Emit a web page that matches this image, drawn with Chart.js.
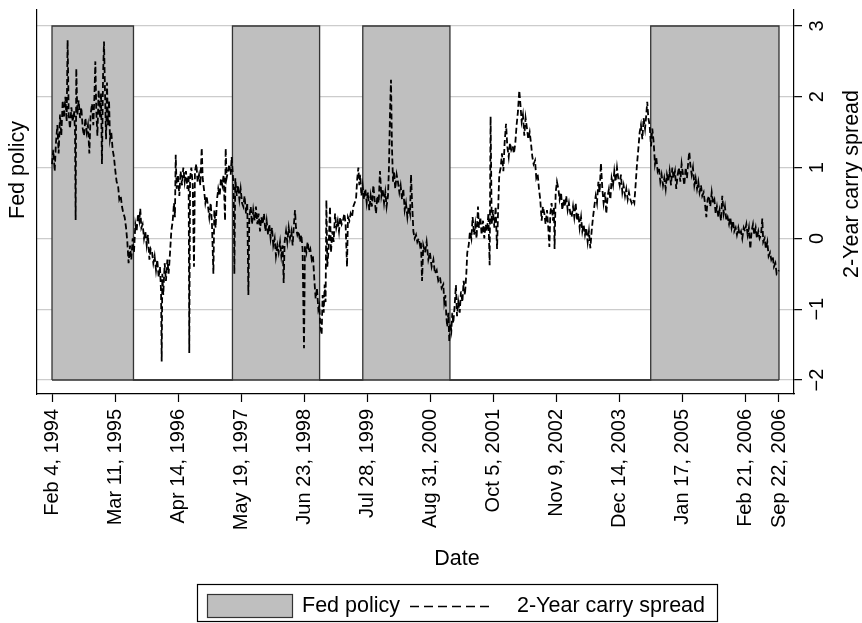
<!DOCTYPE html>
<html><head><meta charset="utf-8">
<script src="https://cdn.jsdelivr.net/npm/chart.js@4.4.1/dist/chart.umd.min.js"></script>
<style>html,body{margin:0;padding:0;background:#fff}canvas{display:block}</style>
</head><body>
<canvas id="c" width="862" height="623"></canvas>
<script>
// x values are calendar days since Feb 4, 1994
const tickDays = [0,400,800,1200,1600,2000,2400,2800,3200,3600,4000,4400,4613];
const tickLabels = ["Feb 4, 1994","Mar 11, 1995","Apr 14, 1996","May 19, 1997","Jun 23, 1998","Jul 28, 1999","Aug 31, 2000","Oct 5, 2001","Nov 9, 2002","Dec 14, 2003","Jan 17, 2005","Feb 21, 2006","Sep 22, 2006"];
const spreadTicks = [-2,-1,0,1,2,3];

// Fed policy regime (1 = tightening) starting at each date
const fedDays   = [0,0,517,1145,1698,1972,2525,3799,4613,4613];
const fedPolicy = [0,1,0,1,0,1,0,1,1,0];

const spreadDays = [
0,8,17,25,34,42,51,59,68,76,
85,93,99,106,114,123,131,140,146,150,
154,161,169,178,186,195,203,212,220,228,
237,245,254,262,269,275,281,288,296,305,
311,317,324,330,336,343,349,355,362,368,
376,385,393,402,410,419,427,436,444,453,
461,470,478,486,495,503,512,520,529,537,
546,554,560,567,575,584,592,601,609,618,
626,635,643,651,660,668,677,685,692,696,
700,706,715,723,732,740,749,757,766,774,
780,785,791,799,808,816,825,833,842,850,
859,867,871,876,884,893,901,907,916,924,
933,941,950,956,964,973,981,990,998,1007,
1015,1024,1030,1038,1047,1055,1064,1072,1081,1089,
1098,1102,1108,1117,1125,1134,1140,1146,1153,1157,
1163,1172,1180,1189,1197,1206,1214,1222,1231,1239,
1246,1252,1261,1269,1277,1286,1294,1303,1311,1320,
1328,1337,1345,1354,1362,1371,1379,1387,1396,1404,
1413,1421,1430,1438,1447,1455,1464,1470,1476,1485,
1493,1502,1510,1519,1527,1535,1542,1548,1557,1565,
1574,1582,1590,1599,1605,1614,1622,1631,1639,1648,
1656,1665,1673,1681,1690,1696,1703,1711,1717,1724,
1730,1736,1741,1747,1755,1764,1770,1779,1787,1796,
1804,1813,1821,1829,1838,1846,1855,1863,1872,1878,
1887,1895,1904,1912,1920,1929,1937,1944,1950,1956,
1963,1971,1980,1988,1997,2005,2013,2022,2030,2039,
2047,2056,2064,2073,2081,2090,2098,2107,2115,2123,
2132,2138,2145,2151,2157,2164,2170,2178,2187,2195,
2204,2212,2221,2229,2238,2246,2255,2263,2272,2278,
2284,2293,2301,2310,2318,2327,2335,
2341,2348,2356,2367,2377,2388,2398,2409,2420,2430,
2441,2451,2462,2472,2483,2489,2496,2502,2508,2515,
2521,2527,2534,2540,2546,2555,2563,2570,2578,2587,
2595,2604,2612,2620,2629,2635,2644,2652,2661,2669,
2678,2686,2694,2703,2709,2718,2726,2735,2743,2752,
2760,2769,2777,2783,2790,2798,2807,2815,2824,2830,
2838,2847,2855,2864,2872,2881,2889,2898,2906,2914,
2923,2931,2940,2948,2957,2965,2972,2980,2988,2997,
3005,3014,3022,3031,3039,3048,3056,3065,3073,3082,
3090,3098,3107,3115,3124,3132,3141,3149,3156,3162,
3170,3179,3185,3189,3196,3204,3213,3221,3230,3238,
3247,3255,3263,3272,3280,3289,3297,3306,3314,3323,
3331,3340,3348,3357,3365,3373,3382,3390,3399,3407,
3416,3424,3433,3441,3450,3458,3467,3475,3483,3492,
3500,3509,3517,3526,3534,3543,3551,3560,3568,3576,
3585,3593,3602,3610,3619,3627,3636,3644,3653,3661,
3670,3678,3686,3695,3703,3712,3720,3729,3737,3746,
3754,3763,3771,3777,3784,3792,3801,3809,3818,3826,
3834,3843,3851,3860,3868,3877,3885,3894,3902,3911,
3919,3928,3936,3944,3953,3961,3970,3978,3987,3995,
4004,4012,4021,4029,4038,4044,4050,4059,4067,4076,
4084,4093,4101,4109,4118,4126,4135,4143,4152,4160,
4169,4177,4186,4194,4203,4211,4219,4228,4236,4245,
4253,4262,4270,4279,4287,4296,4304,4312,4321,4329,
4338,4346,4355,4363,4372,4380,4389,4397,4406,4414,
4422,4431,4439,4448,4456,4465,4473,4482,4490,4499,
4507,4513,4522,4530,4539,4547,4556,4564,4573,4581,
4590,4598,4613
];
const spreadValues = [
1.05,1.25,0.95,1.35,1.6,1.2,1.75,1.45,1.95,1.7,
2.0,1.65,2.8,1.75,1.55,1.85,1.65,1.8,1.5,0.26,
2.4,1.75,1.95,1.7,1.85,1.55,1.45,1.7,1.5,1.6,
1.2,1.75,1.9,1.6,2.0,2.5,1.8,1.45,2.1,1.7,
2.05,1.05,2.3,2.78,2.1,1.4,2.2,1.6,1.95,1.4,
1.5,1.25,1.15,0.95,0.8,0.75,0.55,0.6,0.45,0.35,
0.3,0.15,-0.05,-0.35,-0.1,-0.3,0.0,-0.2,0.2,0.1,
0.35,0.25,0.42,0.15,0.2,0.0,0.1,-0.1,0.05,-0.3,
-0.15,-0.2,-0.35,-0.25,-0.45,-0.3,-0.55,-0.4,-0.75,-1.74,
-0.5,-0.8,-0.35,-0.6,-0.3,-0.5,-0.2,0.1,0.25,0.5,
0.3,1.18,0.7,0.9,0.6,0.95,0.75,1.0,0.8,0.95,
0.7,0.9,-1.62,0.85,1.0,0.75,-0.4,0.95,1.05,0.8,
0.9,0.75,1.28,0.85,0.7,0.5,0.6,0.45,0.3,0.5,
0.2,-0.5,0.4,0.15,0.55,0.7,0.6,0.85,0.75,0.9,
0.25,1.27,0.85,0.95,1.05,0.9,1.15,0.95,0.7,-0.5,
0.85,0.6,0.75,0.55,0.7,0.5,0.45,0.6,0.35,0.5,
-0.8,0.3,0.45,0.2,0.4,0.25,0.45,0.2,0.35,0.1,
0.3,0.2,0.35,0.1,0.25,0.05,0.2,0.0,0.15,-0.1,
0.0,-0.25,-0.1,-0.2,-0.05,-0.25,-0.1,-0.63,-0.05,0.1,
-0.05,0.15,0.0,0.1,-0.1,0.2,0.4,0.15,0.05,0.1,
-0.05,0.05,-0.15,-1.55,-0.1,-0.2,-0.05,-0.2,-0.15,-0.3,
-0.25,-0.6,-0.85,-0.7,-1.0,-0.95,-1.25,-1.36,-0.8,-1.05,
-0.65,-0.9,0.54,-0.4,-0.15,0.45,-0.2,0.1,-0.05,0.35,
0.15,0.25,0.1,0.3,0.2,0.25,0.35,0.2,-0.4,0.3,
0.25,0.35,0.3,0.45,0.5,0.55,0.85,1.0,0.75,0.9,
0.6,0.75,0.55,0.7,0.5,0.65,0.4,0.6,0.45,0.75,
0.55,0.35,0.6,0.5,0.95,0.6,0.7,0.5,0.65,0.45,
0.6,1.0,1.8,2.24,1.3,0.8,0.95,0.7,0.9,0.8,
0.65,0.75,0.55,0.7,0.4,0.5,0.3,0.45,0.35,0.9,
0.55,0.1,0.0,0.05,-0.05,0.0,-0.1,
-0.05,-0.6,-0.1,-0.2,-0.05,-0.3,-0.2,-0.4,-0.3,-0.5,
-0.45,-0.6,-0.55,-0.7,-0.65,-0.9,-0.8,-1.1,-1.25,-1.05,
-1.46,-1.2,-1.3,-1.05,-1.2,-0.95,-0.66,-1.1,-0.9,-1.05,
-0.75,-0.9,-0.6,-0.8,-0.5,-0.2,-0.1,0.1,0.0,0.3,
0.05,0.2,0.0,0.45,0.15,0.3,0.05,0.25,0.0,0.2,
0.1,0.35,-0.38,1.72,0.2,0.4,0.15,0.45,-0.15,0.35,
0.9,1.0,1.2,0.95,1.35,1.62,1.3,1.15,1.35,1.25,
1.3,1.2,1.35,1.6,1.8,2.09,1.9,1.65,1.75,1.45,
1.7,1.55,1.4,1.5,1.35,1.15,1.05,1.1,0.85,0.9,
0.7,0.55,0.25,0.45,0.35,0.2,0.4,0.15,-0.12,0.35,
0.5,0.25,0.45,-0.15,0.65,0.8,0.7,0.55,0.65,0.4,
0.55,0.45,0.6,0.4,0.5,0.35,0.3,0.45,0.3,0.5,
0.25,0.35,0.15,0.3,0.1,0.2,0.05,0.15,-0.05,0.1,
-0.14,0.1,0.3,0.45,0.6,0.5,0.8,0.65,1.06,0.7,
0.5,0.65,0.35,0.6,0.7,0.55,0.85,0.75,0.95,0.8,
1.0,0.85,0.75,0.9,0.65,0.75,0.6,0.7,0.55,0.65,
0.55,0.5,0.55,0.5,0.75,1.05,1.25,1.5,1.6,1.4,
1.7,1.55,1.75,1.93,1.7,1.6,1.3,1.55,1.35,1.05,
1.15,0.95,1.0,0.8,0.9,0.75,0.85,0.7,0.9,0.8,
0.95,0.75,1.0,0.85,0.95,0.7,0.9,1.0,0.8,1.05,
0.9,0.75,1.0,0.85,1.1,1.22,1.05,0.9,1.0,0.75,
0.85,0.7,0.8,0.65,0.75,0.6,0.65,0.5,0.3,0.55,
0.6,0.45,0.65,0.5,0.55,0.35,0.45,0.3,0.4,0.25,
0.6,0.35,0.45,0.25,0.3,0.2,0.3,0.15,0.25,0.1,
0.15,0.05,0.15,0.05,0.1,0.0,0.15,0.1,0.2,0.05,
0.15,-0.15,0.1,0.2,0.05,0.15,0.0,0.1,0.0,0.05,
0.28,-0.05,0.0,-0.15,-0.05,-0.25,-0.2,-0.3,-0.25,-0.4,
-0.35,-0.5,-0.45
];

const FONT = '"Liberation Sans", Arial, Helvetica, sans-serif';
const AREA_FILL = '#bfbfbf';
const AREA_EDGE = '#333333';
const DASH = [6,3];

const decor = {
  id: 'decor',
  afterDatasetDraw(chart, args) {
    if (args.index !== 1) return;
    const xs = chart.scales.x, yf = chart.scales.yFed, ctx = chart.ctx;
    const y0 = yf.getPixelForValue(0);
    ctx.save();
    ctx.strokeStyle = AREA_EDGE; ctx.lineWidth = 1.3;
    ctx.beginPath();
    ctx.moveTo(xs.getPixelForValue(fedDays[0]), y0);
    ctx.lineTo(xs.getPixelForValue(fedDays[fedDays.length - 1]), y0);
    ctx.stroke();
    ctx.restore();
  },
  afterDraw(chart) {
    const ctx = chart.ctx, ys = chart.scales.y;
    ctx.save();
    ctx.fillStyle = '#000';
    // right tick labels (rotated)
    ctx.font = '20px ' + FONT;
    ctx.textAlign = 'center'; ctx.textBaseline = 'middle';
    spreadTicks.forEach(v => {
      const y = ys.getPixelForValue(v);
      ctx.save(); ctx.translate(817, y); ctx.rotate(-Math.PI / 2);
      ctx.fillText(v < 0 ? '\u2212' + Math.abs(v) : String(v), 0, 0);
      ctx.restore();
    });
    // axis titles
    ctx.font = '21.5px ' + FONT;
    ctx.save(); ctx.translate(18, 170); ctx.rotate(-Math.PI / 2);
    ctx.fillText(chart.data.datasets[1].label, 0, 0); ctx.restore();
    ctx.save(); ctx.translate(852, 184); ctx.rotate(-Math.PI / 2);
    ctx.fillText(chart.data.datasets[0].label, 0, 0); ctx.restore();
    ctx.fillText('Date', 457, 559);
    // legend
    ctx.lineWidth = 1.2; ctx.strokeStyle = '#000';
    ctx.strokeRect(197.5, 584.5, 520, 37);
    ctx.fillStyle = AREA_FILL; ctx.fillRect(207, 594, 85, 23);
    ctx.strokeStyle = AREA_EDGE; ctx.strokeRect(207.5, 594.5, 85, 23);
    ctx.fillStyle = '#000'; ctx.textAlign = 'left';
    ctx.fillText(chart.data.datasets[1].label, 302, 606);
    ctx.strokeStyle = '#000'; ctx.lineWidth = 1.5; ctx.setLineDash([9,5]);
    ctx.beginPath(); ctx.moveTo(410, 606.5); ctx.lineTo(494, 606.5); ctx.stroke();
    ctx.setLineDash([]);
    ctx.fillText(chart.data.datasets[0].label, 517, 606);
    ctx.restore();
  }
};

new Chart(document.getElementById('c'), {
  type: 'line',
  data: {
    datasets: [
      {
        label: '2-Year carry spread',
        data: spreadDays.map((d, i) => ({x: d, y: spreadValues[i]})),
        yAxisID: 'y', borderColor: '#000', borderWidth: 1.8, borderDash: DASH,
        pointRadius: 0, tension: 0, fill: false
      },
      {
        label: 'Fed policy',
        data: fedDays.map((d, i) => ({x: d, y: fedPolicy[i]})),
        yAxisID: 'yFed', stepped: true, borderColor: AREA_EDGE, borderWidth: 1.3,
        backgroundColor: AREA_FILL, fill: 'origin', pointRadius: 0
      }
    ]
  },
  options: {
    responsive: false, animation: false, devicePixelRatio: 1,
    layout: {padding: {top: 10, left: 0, right: 0, bottom: 0}},
    plugins: {legend: {display: false}, tooltip: {enabled: false}},
    scales: {
      x: {
        type: 'linear', position: 'bottom', min: -95.2, max: 4708.2,
        afterBuildTicks: s => { s.ticks = tickDays.map(v => ({value: v})); },
        afterFit: s => { s.height = 229; },
        ticks: {
          autoSkip: false, minRotation: 90, maxRotation: 90, padding: 7, color: '#000',
          font: {family: FONT, size: 20},
          callback: v => { const i = tickDays.indexOf(v); return i >= 0 ? tickLabels[i] : ''; }
        },
        grid: {display: true, drawOnChartArea: false, drawTicks: true, tickLength: 8, tickColor: '#000', tickWidth: 1.2},
        border: {display: true, color: '#000', width: 1.2}
      },
      yFed: {
        type: 'linear', position: 'left', min: -0.0395, max: 1.0452,
        afterFit: s => { s.width = 37; },
        ticks: {display: false}, grid: {display: false},
        border: {display: true, color: '#000', width: 1.2}
      },
      y: {
        type: 'linear', position: 'right', min: -2.198, max: 3.226,
        afterBuildTicks: s => { s.ticks = spreadTicks.map(v => ({value: v})); },
        afterFit: s => { s.width = 68; },
        ticks: {display: false},
        grid: {color: '#cccccc', lineWidth: 1.3, drawTicks: true, tickLength: 8, tickColor: '#000', tickWidth: 1.2},
        border: {display: true, color: '#000', width: 1.2}
      }
    }
  },
  plugins: [decor]
});
</script>
</body></html>
